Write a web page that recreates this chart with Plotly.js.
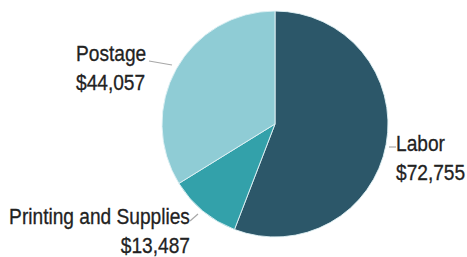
<!DOCTYPE html>
<html>
<head>
<meta charset="utf-8">
<script src="https://cdn.plot.ly/plotly-3.0.1.min.js"></script>
<style>html,body{margin:0;padding:0;background:#fff;}#chart{width:467px;height:257px;}</style>
</head>
<body>
<div id="chart"></div>
<script>
var categories = ["Labor", "Printing and Supplies", "Postage"];
var amounts = [72755, 13487, 44057];
var sliceColors = ["#2c5769", "#33a1aa", "#8fccd5"];

var W = 467, H = 257;
function px(x){ return x / W; }
function py(y){ return 1 - y / H; }

// label placement (pixels) per category
var labelPos = [
  {x: 394, y: 158, xanchor: "left", align: "left"},
  {x: 192, y: 231, xanchor: "right", align: "right"},
  {x: 74, y: 68, xanchor: "left", align: "left"}
];
var fontFam = "Liberation Sans, Arial, sans-serif";
var squeeze = 0.87;

var annotations = categories.map(function(c, i){
  var p = labelPos[i];
  return {
    xref: "paper", yref: "paper",
    x: px(p.x), y: py(p.y),
    xanchor: p.xanchor, yanchor: "middle", align: p.align,
    showarrow: false,
    text: c + "<br>$" + amounts[i].toLocaleString("en-US"),
    font: {family: fontFam, size: 22, color: "#222222"}
  };
});

var leaders = [
  [[389, 147], [396, 147]],
  [[190, 221], [198, 214]],
  [[149, 61], [172, 65]]
];
var shapes = leaders.map(function(l){
  return {type: "line", xref: "paper", yref: "paper",
    x0: px(l[0][0]), y0: py(l[0][1]), x1: px(l[1][0]), y1: py(l[1][1]),
    line: {color: "#a8a8a8", width: 1.2}};
});

var trace = {
  type: "pie",
  labels: categories,
  values: amounts,
  sort: false,
  direction: "clockwise",
  rotation: 0,
  textinfo: "none",
  hoverinfo: "none",
  marker: {colors: sliceColors, line: {color: "rgba(225,242,245,0.9)", width: 1}},
  domain: {x: [px(275 - 113), px(275 + 113)], y: [py(124 + 113), py(124 - 113)]},
  showlegend: false
};

Plotly.newPlot("chart", [trace], {
  width: W, height: H,
  margin: {l: 0, r: 0, t: 0, b: 0},
  paper_bgcolor: "#ffffff",
  showlegend: false,
  annotations: annotations,
  shapes: shapes
}, {staticPlot: true, displayModeBar: false}).then(function(gd){
  // condense label text horizontally around its anchored edge (local coords)
  var texts = gd.querySelectorAll(".annotation-text");
  texts.forEach(function(t, i){
    var p = labelPos[i];
    if (!p) return;
    var bb = t.getBBox();
    var ax = p.xanchor === "right" ? bb.x + bb.width : bb.x;
    t.setAttribute("transform", "translate(" + ax + ",0) scale(" + squeeze + ",1) translate(" + (-ax) + ",0)");
    t.style.stroke = "#222222";
    t.style.strokeWidth = "0.3px";
  });
});
</script>
</body>
</html>
